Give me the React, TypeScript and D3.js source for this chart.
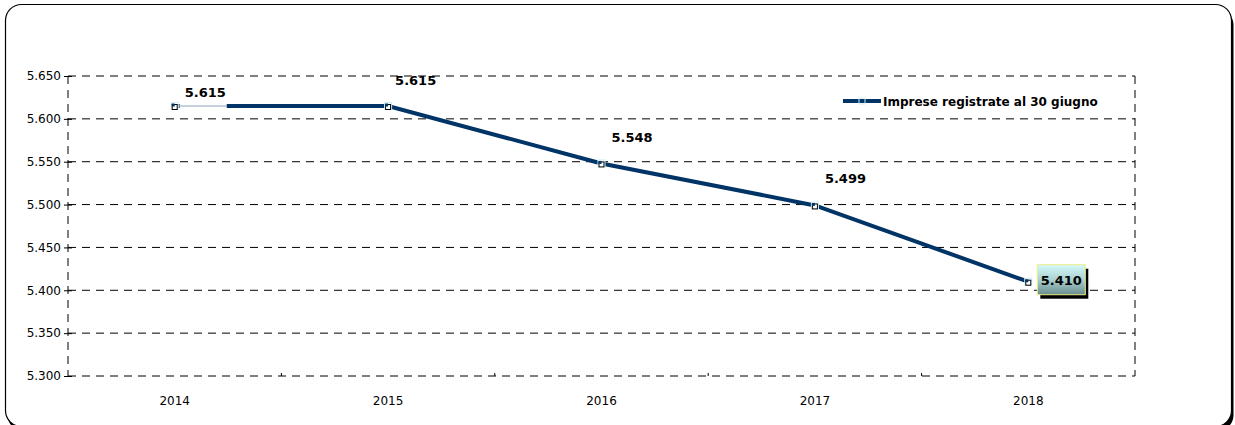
import React, { useEffect, useRef } from 'react'
import * as d3 from 'd3'

const years = ['2014', '2015', '2016', '2017', '2018']
const imprese = [5615, 5615, 5548, 5499, 5410]
const yTicks = [5300, 5350, 5400, 5450, 5500, 5550, 5600, 5650]
const seriesName = 'Imprese registrate al 30 giugno'

const W = 1235
const H = 425
const navy = '#003366'

const App = () => {
    const ref = useRef<SVGSVGElement>(null)
    const margin = { top: 76, right: 100, bottom: 49, left: 68 }

    useEffect(() => {
        const svg = d3.select(ref.current)
        svg.selectAll('*').remove()
        const it = d3.formatLocale({ decimal: ',', thousands: '.', grouping: [3], currency: ['€', ''] })
        const fmt = it.format(',.0f')

        // outer frame, bottom edge falls just off the page; shadow shows at bottom-right
        svg.append('rect')
            .attr('x', 7.5).attr('y', 9).attr('width', 1226).attr('height', 422)
            .attr('rx', 16).attr('fill', '#000')
        svg.append('rect')
            .attr('x', 5.5).attr('y', 4.5).attr('width', 1226).attr('height', 422)
            .attr('rx', 16).attr('fill', '#fff').attr('stroke', '#000').attr('stroke-width', 1.2)

        const x = d3.scaleBand().domain(years).range([margin.left, W - margin.right])
        const y = d3.scaleLinear().domain([5300, 5650]).range([H - margin.bottom, margin.top])
        const cx = (d: string) => (x(d) || 0) + x.bandwidth() / 2

        const g = svg.append('g')
        // horizontal grid
        g.selectAll('line.grid').data(yTicks).enter().append('line')
            .attr('x1', margin.left).attr('x2', W - margin.right)
            .attr('y1', d => y(d)).attr('y2', d => y(d))
            .attr('stroke', '#000').attr('stroke-width', 1).attr('stroke-dasharray', '8,6')
        // left and right frame
        ;[margin.left, W - margin.right].forEach(xx => {
            g.append('line').attr('x1', xx).attr('x2', xx)
                .attr('y1', margin.top).attr('y2', H - margin.bottom)
                .attr('stroke', '#000').attr('stroke-dasharray', '8,6')
        })

        // y axis
        const ya = g.append('g').attr('transform', `translate(${margin.left},0)`)
            .call(d3.axisLeft(y).tickValues(yTicks).tickFormat(d => fmt(d as number)).tickSize(4).tickPadding(3))
        ya.select('.domain').remove()
        ya.selectAll('text').attr('font-family', 'DejaVu Sans').attr('font-size', 12).attr('fill', '#000')
        ya.selectAll('line').attr('x2', 4).attr('x1', -4)

        // x axis
        const xa = g.append('g').attr('transform', `translate(0,${H - margin.bottom})`)
            .call(d3.axisBottom(x).tickSize(0).tickPadding(20))
        xa.select('.domain').remove()
        xa.selectAll('text').attr('font-family', 'DejaVu Sans').attr('font-size', 12).attr('fill', '#000')
        // small ticks between categories
        g.selectAll('line.xt').data(years.slice(1)).enter().append('line')
            .attr('x1', d => x(d) || 0).attr('x2', d => x(d) || 0)
            .attr('y1', H - margin.bottom).attr('y2', H - margin.bottom - 3)
            .attr('stroke', '#000')

        const pts = years.map((d, i) => ({ year: d, v: imprese[i] }))
        const line = d3.line<{ year: string, v: number }>().x(d => cx(d.year)).y(d => y(d.v))
        g.append('path').datum(pts).attr('d', line)
            .attr('fill', 'none').attr('stroke', navy).attr('stroke-width', 4)

        // first label's white box hides the start of the line
        const p0 = pts[0]
        g.append('rect').attr('x', cx(p0.year) + 5).attr('y', y(p0.v) - 3)
            .attr('width', 47).attr('height', 6).attr('fill', '#fff')
        g.append('line').attr('x1', cx(p0.year) + 3).attr('x2', cx(p0.year) + 52)
            .attr('y1', y(p0.v)).attr('y2', y(p0.v)).attr('stroke', '#8fa3b8').attr('stroke-width', 1)

        // markers
        const mk = g.selectAll('g.mk').data(pts).enter().append('g')
            .attr('transform', d => `translate(${cx(d.year)},${y(d.v)})`)
        mk.append('rect').attr('x', -3.5).attr('y', -3.5).attr('width', 7).attr('height', 7)
            .attr('fill', '#fff').attr('stroke', '#cfeff5').attr('stroke-width', 1)
        mk.append('rect').attr('x', -2.5).attr('y', -1.5).attr('width', 5).attr('height', 5)
            .attr('fill', 'none').attr('stroke', '#000').attr('stroke-width', 1)
        mk.append('rect').attr('x', -3).attr('y', -2.5).attr('width', 3).attr('height', 3).attr('fill', navy)

        // data labels
        const offs = [[10, -9], [7, -21], [10, -21], [10, -22]]
        pts.slice(0, 4).forEach((d, i) => {
            g.append('text').attr('x', cx(d.year) + offs[i][0]).attr('y', y(d.v) + offs[i][1])
                .attr('font-family', 'DejaVu Sans').attr('font-weight', 'bold').attr('font-size', 13)
                .attr('fill', '#000').text(fmt(d.v))
        })
        // last label in a box
        const last = pts[4]
        const defs = svg.append('defs')
        const grad = defs.append('linearGradient').attr('id', 'lg').attr('x1', 0).attr('x2', 0).attr('y1', 0).attr('y2', 1)
        grad.append('stop').attr('offset', '0%').attr('stop-color', '#d4fafa')
        grad.append('stop').attr('offset', '50%').attr('stop-color', '#aad0d0')
        grad.append('stop').attr('offset', '100%').attr('stop-color', '#6a8c8c')
        const bx = cx(last.year) + 9
        const by = y(last.v) - 17
        g.append('rect').attr('x', bx + 3).attr('y', by + 4).attr('width', 48).attr('height', 30).attr('fill', '#000')
        g.append('rect').attr('x', bx).attr('y', by).attr('width', 48).attr('height', 30)
            .attr('fill', 'url(#lg)').attr('stroke', '#eeee88').attr('stroke-width', 1)
        g.append('text').attr('x', bx + 24).attr('y', by + 20).attr('text-anchor', 'middle')
            .attr('font-family', 'DejaVu Sans').attr('font-weight', 'bold').attr('font-size', 13)
            .attr('fill', '#000').text(fmt(last.v))

        // legend
        const lx = 843
        const ly = 101
        g.append('line').attr('x1', lx).attr('x2', lx + 38).attr('y1', ly).attr('y2', ly)
            .attr('stroke', navy).attr('stroke-width', 4)
        g.append('rect').attr('x', lx + 16).attr('y', ly - 3).attr('width', 6).attr('height', 6)
            .attr('fill', 'none').attr('stroke', '#cfeff5')
        g.append('text').attr('x', lx + 40).attr('y', ly + 5)
            .attr('font-family', 'DejaVu Sans').attr('font-weight', 'bold').attr('font-size', 12)
            .attr('fill', '#000').text(seriesName)
    }, [])

    return (
        <svg ref={ref} width={W} height={H} style={{ position: 'absolute', left: 0, top: 0, background: '#fff' }} />
    )
}

export default App
